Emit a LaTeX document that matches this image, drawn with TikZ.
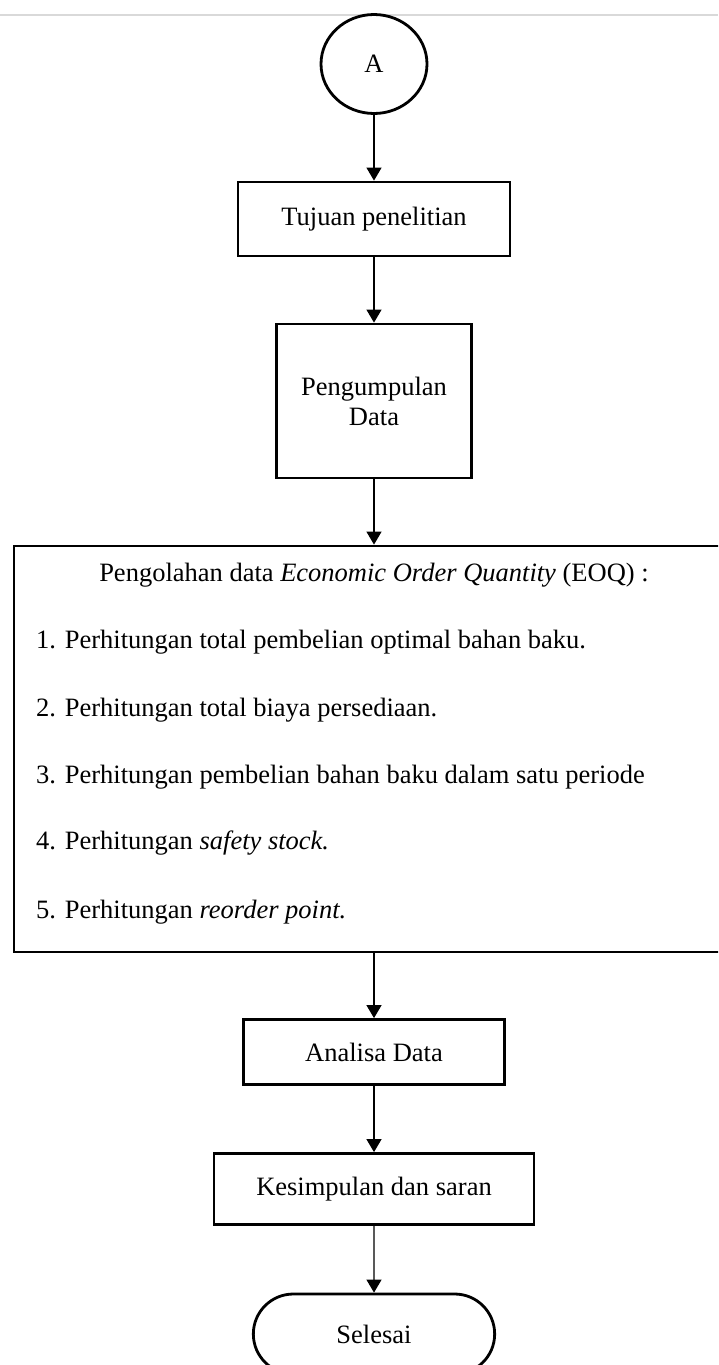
\documentclass[tikz,border=0pt]{standalone}
\usepackage{fontspec}
\setmainfont{Liberation Serif}
\usetikzlibrary{arrows.meta,shapes.geometric,shapes.misc}
\tikzset{
	box/.style={draw,rectangle,line width=2.8pt,fill=white,inner sep=0pt,align=center},
	flow/.style={line width=1.2pt,-{Triangle[width=15pt,length=13pt]}},
	itemtext/.style={anchor=west,inner sep=0pt},
}
\begin{document}
\begin{tikzpicture}[x=1pt,y=-1pt,font=\fontsize{26.5}{30}\selectfont]
	\useasboundingbox (0,0) rectangle (718,1365);
	\clip (0,0) rectangle (718,1365);
	%\draw[lightgray] (0,0) grid[step=100] (718,1365);
	\draw[gray!30,line width=2pt] (0,15) -- (718,15);

	\node[draw,ellipse,line width=2.8pt,fill=white,minimum width=106pt,minimum height=99pt,inner sep=0pt] (A) at (374,64) {A};
	\node[box,minimum width=272pt,minimum height=74pt] (tujuan) at (374,219) {Tujuan penelitian};
	\node[box,minimum width=195pt,minimum height=154pt] (data) at (374,401) {Pengumpulan\\Data};

	% kotak pengolahan data
	\node[box,minimum width=720pt,minimum height=406pt] (eoq) at (374,749) {};
	\node (eoqjudul) at (374,575) {Pengolahan data \textit{Economic Order Quantity} (EOQ) :};
	\foreach \n/\y/\txt in {1/642/{Perhitungan total pembelian optimal bahan baku.},
		2/710/{Perhitungan total biaya persediaan.},
		3/777/{Perhitungan pembelian bahan baku dalam satu periode},
		4/843/{Perhitungan \textit{safety stock.}},
		5/912/{Perhitungan \textit{reorder point.}}}
		\node[itemtext] (item\n) at (36,\y) {\n. \txt};

	\node[box,minimum width=261pt,minimum height=65pt] (analisa) at (374,1052) {Analisa Data};
	\node[box,minimum width=320pt,minimum height=71pt] (saran) at (374,1189) {Kesimpulan dan saran};
	\node[draw,rounded rectangle,line width=2.8pt,minimum width=248pt,minimum height=80pt] (selesai) at (374,1334) {Selesai};

	\draw[flow] (A) -- (tujuan);
	\draw[flow] (tujuan) -- (data);
	\draw[flow] (data) -- (eoq);
	\draw[flow] (eoq) -- (analisa);
	\draw[flow] (analisa) -- (saran);
	\draw[flow] (saran) -- (selesai);
\end{tikzpicture}
\end{document}
